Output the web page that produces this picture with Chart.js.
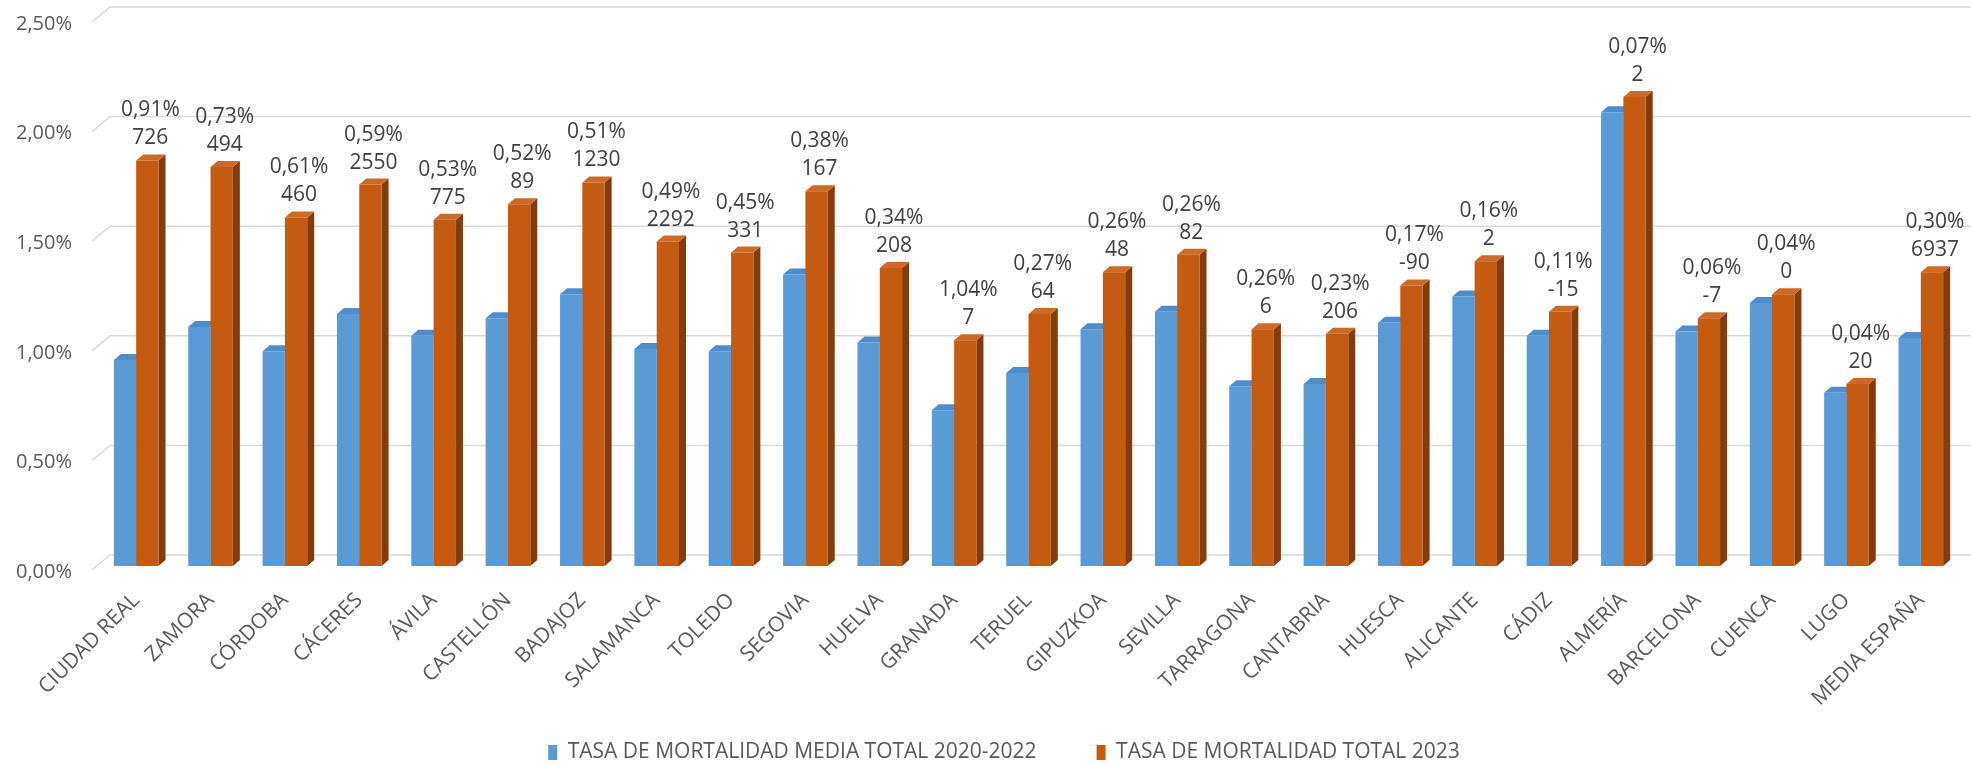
<!DOCTYPE html>
<html>
<head>
<meta charset="utf-8">
<script src="https://cdn.jsdelivr.net/npm/chart.js@4.4.1/dist/chart.umd.min.js"></script>
<style>
  html, body { margin: 0; padding: 0; background: #fff; }
  #wrap { width: 1971px; height: 765px; }
</style>
</head>
<body>
<div id="wrap"><canvas id="mortalidad"></canvas></div>
<script>
// Datos
const provincias = ["CIUDAD REAL", "ZAMORA", "CÓRDOBA", "CÁCERES", "ÁVILA", "CASTELLÓN", "BADAJOZ",
  "SALAMANCA", "TOLEDO", "SEGOVIA", "HUELVA", "GRANADA", "TERUEL", "GIPUZKOA", "SEVILLA",
  "TARRAGONA", "CANTABRIA", "HUESCA", "ALICANTE", "CÁDIZ", "ALMERÍA", "BARCELONA", "CUENCA",
  "LUGO", "MEDIA ESPAÑA"];
const tasaMedia = [0.94, 1.09, 0.98, 1.15, 1.05, 1.13, 1.24, 0.99, 0.98, 1.33, 1.02, 0.71, 0.88,
  1.08, 1.16, 0.82, 0.83, 1.11, 1.23, 1.05, 2.07, 1.07, 1.20, 0.79, 1.04];
const tasa2023 = [1.85, 1.82, 1.59, 1.74, 1.58, 1.65, 1.75, 1.48, 1.43, 1.71, 1.36, 1.03, 1.15,
  1.34, 1.42, 1.08, 1.06, 1.28, 1.39, 1.16, 2.14, 1.13, 1.24, 0.83, 1.34];
const diferencia = ["0,91%", "0,73%", "0,61%", "0,59%", "0,53%", "0,52%", "0,51%", "0,49%", "0,45%",
  "0,38%", "0,34%", "1,04%", "0,27%", "0,26%", "0,26%", "0,26%", "0,23%", "0,17%", "0,16%",
  "0,11%", "0,07%", "0,06%", "0,04%", "0,04%", "0,30%"];
const exceso = ["726", "494", "460", "2550", "775", "89", "1230", "2292", "331", "167", "208", "7",
  "64", "48", "82", "6", "206", "-90", "2", "-15", "2", "-7", "0", "20", "6937"];
const yTicks = [0, 0.5, 1, 1.5, 2, 2.5];

const FONT = "'Open Sans', sans-serif";
const GRIS = "#595959";
const DX = 7, DY = -6;

// pared del fondo + caras 3D de las barras (antes de las caras frontales)
const fondo3d = {
  id: "fondo3d",
  afterLayout(chart) {
    // la leyenda del original está algo desplazada a la derecha
    chart.legend.left = 50;
    // que las etiquetas giradas no se recorten al llegar a la leyenda
    chart.scales.x.bottom = chart.height;
  },
  beforeDatasetsDraw(chart) {
    const { ctx, scales: { y } } = chart;
    ctx.save();
    ctx.strokeStyle = "#D9D9D9";
    ctx.lineWidth = 1.5;
    yTicks.forEach(v => {
      const py = y.getPixelForValue(v);
      ctx.beginPath();
      ctx.moveTo(92, py + 4);
      ctx.lineTo(110, py - 11);
      ctx.lineTo(chart.width, py - 11);
      ctx.stroke();
    });
    const caras = [
      { top: "#4E8DCB", side: "#3F74A8" },
      { top: "#CF6A26", side: "#843C0C" }
    ];
    [0, 1].forEach(d => {
      chart.getDatasetMeta(d).data.forEach(bar => {
        const l = bar.x - bar.width / 2, r = bar.x + bar.width / 2;
        const t = bar.y, b = bar.base;
        ctx.fillStyle = caras[d].side;
        ctx.beginPath();
        ctx.moveTo(r, t); ctx.lineTo(r + DX, t + DY); ctx.lineTo(r + DX, b + DY); ctx.lineTo(r, b);
        ctx.closePath(); ctx.fill();
        ctx.fillStyle = caras[d].top;
        ctx.beginPath();
        ctx.moveTo(l, t); ctx.lineTo(r, t); ctx.lineTo(r + DX, t + DY); ctx.lineTo(l + DX, t + DY);
        ctx.closePath(); ctx.fill();
      });
    });
    ctx.restore();
  },
  afterDatasetsDraw(chart) {
    const { ctx } = chart;
    ctx.save();
    ctx.fillStyle = "#404040";
    ctx.font = "21px " + FONT;
    ctx.textAlign = "center";
    ctx.textBaseline = "middle";
    chart.getDatasetMeta(1).data.forEach((bar, i) => {
      ctx.fillText(diferencia[i], bar.x + 3, bar.y - 50);
      ctx.fillText(exceso[i], bar.x + 3, bar.y - 22);
    });
    ctx.restore();
  }
};

new Chart(document.getElementById("mortalidad"), {
  type: "bar",
  data: {
    labels: provincias,
    datasets: [
      { label: "TASA DE MORTALIDAD MEDIA TOTAL 2020-2022", data: tasaMedia, backgroundColor: "#5B9BD5" },
      { label: "TASA DE MORTALIDAD TOTAL 2023", data: tasa2023, backgroundColor: "#C55A11" }
    ]
  },
  options: {
    responsive: true,
    maintainAspectRatio: false,
    animation: false,
    devicePixelRatio: 1,
    layout: { padding: { top: 18, right: 13, left: 0, bottom: -8 } },
    datasets: { bar: { categoryPercentage: 0.6, barPercentage: 1 } },
    scales: {
      x: {
        grid: { display: false, drawTicks: false },
        border: { display: false },
        ticks: {
          autoSkip: false, minRotation: 45, maxRotation: 45, padding: 22,
          color: GRIS, font: { family: FONT, size: 21 }
        },
        afterFit(s) { s.height = 116; s.paddingLeft = 0; s.paddingRight = 0; }
      },
      y: {
        min: 0, max: 2.5,
        grid: { display: false, drawTicks: false },
        border: { display: false },
        afterBuildTicks(s) { s.ticks = yTicks.map(v => ({ value: v })); },
        ticks: {
          padding: 27, labelOffset: 6, color: GRIS, font: { family: FONT, size: 20 },
          callback: v => v.toFixed(2).replace(".", ",") + "%"
        },
        afterFit(s) { s.width = 99; s.paddingTop = 0; s.paddingBottom = 0; }
      }
    },
    plugins: {
      legend: {
        position: "bottom",
        labels: {
          boxWidth: 9, boxHeight: 15, padding: 60, color: GRIS,
          font: { family: FONT, size: 21 }
        }
      },
      tooltip: { enabled: false }
    }
  },
  plugins: [fondo3d]
});
</script>
</body>
</html>
